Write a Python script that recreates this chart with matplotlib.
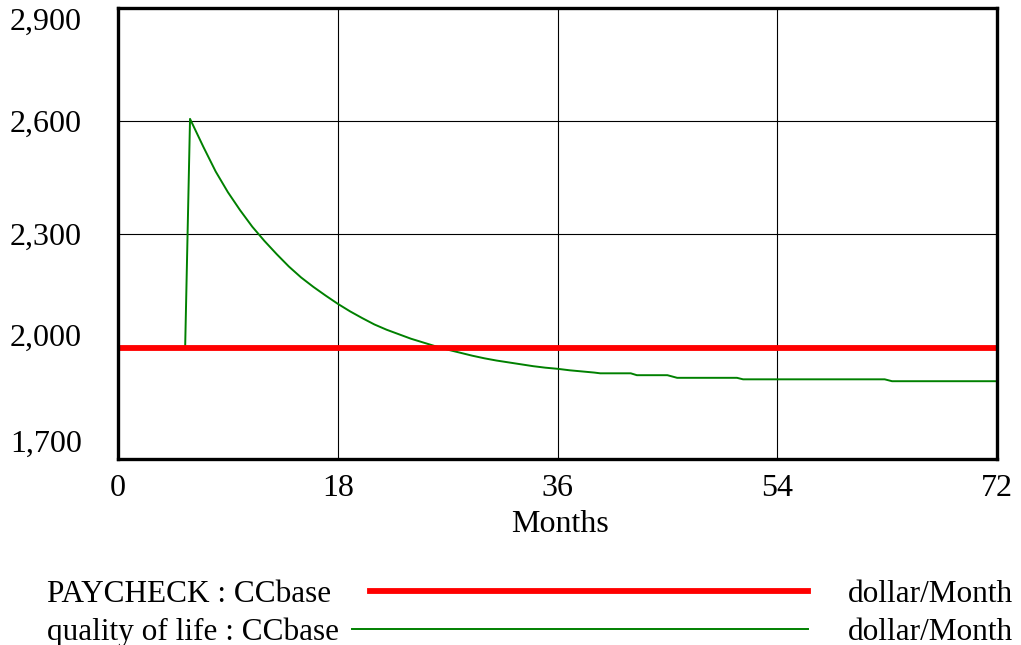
import matplotlib
matplotlib.use('Agg')
import matplotlib.pyplot as plt
from matplotlib.lines import Line2D

plt.rcParams['font.family'] = ['Liberation Serif', 'DejaVu Serif']

# Data
months = [0, 72]
paycheck = [1996, 1996]

qol_months = [0, 5.5, 5.9, 7, 8, 9, 10, 11, 12, 13, 14, 15, 16, 17, 18, 19, 20,
              21, 22, 23, 24, 25, 26, 27, 28, 29, 30, 31, 32, 33, 34, 35, 36, 37,
              38, 39, 39.5, 42, 42.5, 45, 45.8, 50.7, 51.2, 62.8, 63.4, 72]
qol_values = [1996, 1996, 2605, 2530, 2465, 2410, 2362, 2318, 2280, 2245, 2212,
              2183, 2158, 2135, 2113, 2093, 2075, 2058, 2044, 2032, 2020, 2010,
              2000, 1991, 1983, 1975, 1968, 1962, 1957, 1952, 1947, 1943, 1940,
              1936, 1933, 1930, 1928, 1928, 1923, 1923, 1916, 1916, 1912, 1912,
              1907, 1907]

x_ticks = [0, 18, 36, 54, 72]
y_ticks = [1700, 2000, 2300, 2600, 2900]
y_tick_labels = ['1,700', '2,000', '2,300', '2,600', '2,900']

series_names = ['PAYCHECK : CCbase', 'quality of life : CCbase']
series_units = ['dollar/Month', 'dollar/Month']
series_colors = ['#ff0000', '#008000']
series_widths = [4.2, 1.4]

fs = 23

fig = plt.figure(figsize=(10.21, 6.45), dpi=100)
ax = fig.add_axes([118 / 1021, 1 - 459 / 645, 879 / 1021, 451 / 645])

ax.plot(qol_months, qol_values, color=series_colors[1], lw=series_widths[1], zorder=3)
ax.plot(months, paycheck, color=series_colors[0], lw=series_widths[0], zorder=4)

ax.set_xlim(0, 72)
ax.set_ylim(1700, 2900)
ax.set_xticks(x_ticks)
ax.set_yticks(y_ticks)
ax.set_yticklabels(y_tick_labels)
ax.grid(True, color='black', lw=0.8)
ax.tick_params(length=0, labelsize=fs)
ax.tick_params(axis='y', pad=26)
ax.tick_params(axis='x', pad=11)
for spine in ax.spines.values():
    spine.set_linewidth(2.4)
    spine.set_zorder(5)

# Vensim keeps the outer y labels inside the plot range
labels = ax.get_yticklabels()
labels[0].set_va('bottom')
labels[1].set_va('baseline')
labels[-1].set_va('top')

fig.text(560 / 1021, 1 - 524 / 645, 'Months', ha='center', va='center', fontsize=fs)

# legend rows below the plot
row_y = [591, 629]
line_x0 = [370, 352]
for i in range(2):
    yy = 1 - row_y[i] / 645
    ty = 1 - (row_y[i] + 3) / 645
    fig.text(47 / 1021, ty, series_names[i], ha='left', va='center', fontsize=22.5)
    fig.add_artist(Line2D([line_x0[i] / 1021, 808 / 1021], [yy, yy],
                          color=series_colors[i], lw=series_widths[i]))
    fig.text(1013 / 1021, ty, series_units[i], ha='right', va='center', fontsize=22.5)

fig.savefig('out.png', dpi=100)
